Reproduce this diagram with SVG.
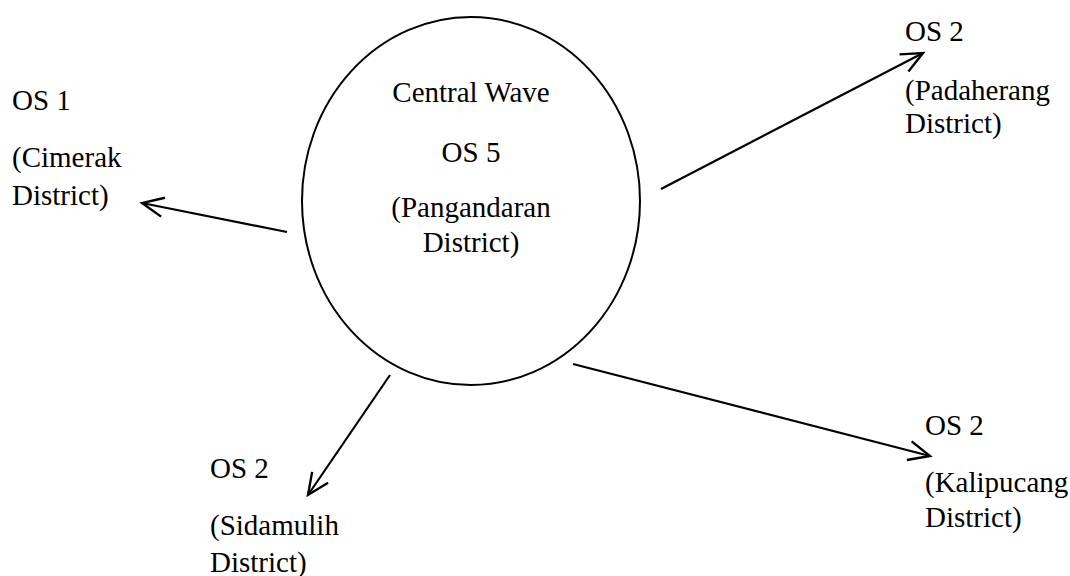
<svg xmlns="http://www.w3.org/2000/svg" width="1070" height="576" viewBox="0 0 1070 576">
<style>
text{font-family:'Liberation Serif','Times New Roman','DejaVu Serif',serif;font-size:29px;fill:#000}
.c{text-anchor:middle}
.e{fill:none;stroke:#000;stroke-width:2}
</style>
<defs>
<marker id="ah" markerUnits="userSpaceOnUse" markerWidth="30" markerHeight="30" viewBox="-24 -12 28 24" refX="0" refY="0" orient="auto">
<path d="M-20,-9 L0,0 L-20,9" fill="none" stroke="#000" stroke-width="2.2" stroke-linejoin="miter"/>
</marker>
</defs>
<rect width="1070" height="576" fill="#fff"/>
<g id="center">
<ellipse cx="471" cy="201" rx="169" ry="184" class="e"/>
<text class="c" x="471" y="102">Central Wave</text>
<text class="c" x="471" y="162">OS 5</text>
<text class="c" x="471" y="217">(Pangandaran</text>
<text class="c" x="471" y="252">District)</text>
</g>
<g id="os1">
<text x="12" y="110">OS 1</text>
<text x="12" y="167">(Cimerak</text>
<text x="12" y="205">District)</text>
</g>
<g id="os2-padaherang">
<text x="905" y="41">OS 2</text>
<text x="905" y="100">(Padaherang</text>
<text x="905" y="133">District)</text>
</g>
<g id="os2-sidamulih">
<text x="210" y="478">OS 2</text>
<text x="210" y="535">(Sidamulih</text>
<text x="210" y="572">District)</text>
</g>
<g id="os2-kalipucang">
<text x="925" y="435">OS 2</text>
<text x="925" y="492">(Kalipucang</text>
<text x="925" y="527">District)</text>
</g>
<g id="connectors" fill="none" stroke="#000" stroke-width="2.2">
<line x1="287" y1="232" x2="142" y2="203" marker-end="url(#ah)"/>
<line x1="661" y1="189" x2="923" y2="53" marker-end="url(#ah)"/>
<line x1="390" y1="375" x2="308" y2="495" marker-end="url(#ah)"/>
<line x1="573" y1="364" x2="930" y2="456" marker-end="url(#ah)"/>
</g>
</svg>
